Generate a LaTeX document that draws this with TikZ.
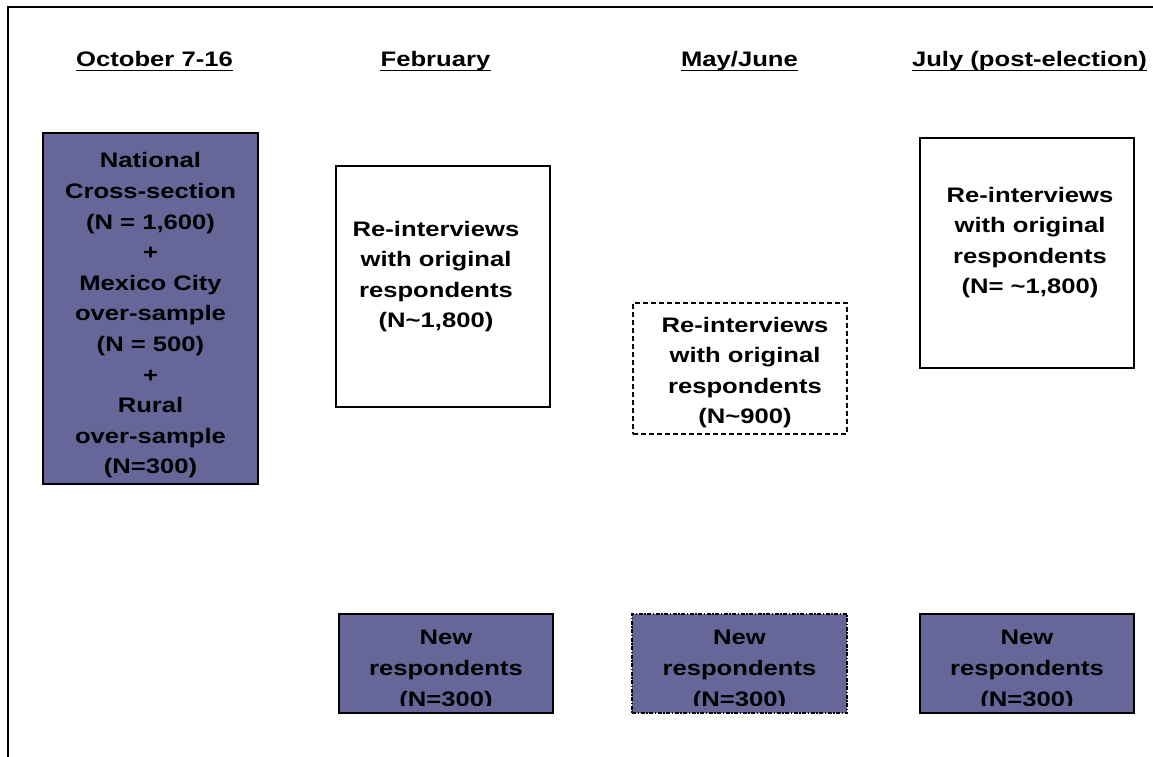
\documentclass[tikz,border=0pt]{standalone}
\usepackage{fontspec}
\setmainfont{Liberation Sans}[FakeStretch=1.22]
\definecolor{panelblue}{HTML}{666699}
\tikzset{
  hdr/.style={font=\bfseries\fontsize{21}{30.6}\selectfont,inner sep=0pt},
  txt/.style={font=\bfseries\fontsize{21}{30.6}\selectfont,align=center,inner sep=0pt},
  wavebox/.style={draw,line width=1.3pt,inner sep=0pt},
  panel/.style={wavebox,fill=panelblue},
  dashbox/.style={wavebox,dash pattern=on 5pt off 3pt},
  dotdashbox/.style={panel,dash pattern=on 4pt off 1.5pt on 1.5pt off 1.5pt}
}
\begin{document}
\begin{tikzpicture}[x=1pt,y=-1pt]
\useasboundingbox (0,0) rectangle (1153,757);
\draw[line width=2pt] (8,757) -- (8,7) -- (1153,7);
% headers
\node[hdr,anchor=base] (oct) at (154.5,67) {October 7-16};
\node[hdr,anchor=base] (feb) at (435.5,67) {February};
\node[hdr,anchor=base] (may) at (739.5,67) {May/June};
\node[hdr,anchor=base] (jul) at (1029.5,67) {July (post-election)};
\foreach \h in {oct,feb,may,jul}
  \draw[line width=1.6pt] ([yshift=-3.5pt]\h.base west) -- ([yshift=-3.5pt]\h.base east);
% october
\node[panel,minimum width=215,minimum height=351] (octbox) at (150.5,308.5) {};
\node[txt] (octtxt) at (150.5,315.5) {National\\Cross-section\\(N = 1,600)\\+\\Mexico City\\over-sample\\(N = 500)\\+\\Rural\\over-sample\\(N=300)};
% re-interviews
\node[wavebox,minimum width=214,minimum height=241] (febbox) at (443,286.5) {};
\node[txt] (febtxt) at (436,276.5) {Re-interviews\\with original\\respondents\\(N\textasciitilde1,800)};
\node[dashbox,minimum width=214,minimum height=131] (maybox) at (740,368.5) {};
\node[txt] (maytxt) at (745,372.5) {Re-interviews\\with original\\respondents\\(N\textasciitilde900)};
\node[wavebox,minimum width=214,minimum height=230] (julbox) at (1027,253) {};
\node[txt] (jultxt) at (1030,242.5) {Re-interviews\\with original\\respondents\\(N= \textasciitilde1,800)};
% new respondents
\node[panel,minimum width=214,minimum height=99] (febnew) at (446,663.5) {};
\node[dotdashbox,minimum width=215,minimum height=99] (maynew) at (739.5,663.5) {};
\node[panel,minimum width=214,minimum height=99] (julnew) at (1027,663.5) {};
\foreach \b in {febnew,maynew,julnew} {
  \begin{scope}
    \clip ([yshift=-1pt]\b.north west) rectangle ([yshift=8pt]\b.south east);
    \node[txt] (\b txt) at ([yshift=-7pt]\b.center) {New\\respondents\\(N=300)};
  \end{scope}
}
\end{tikzpicture}
\end{document}
